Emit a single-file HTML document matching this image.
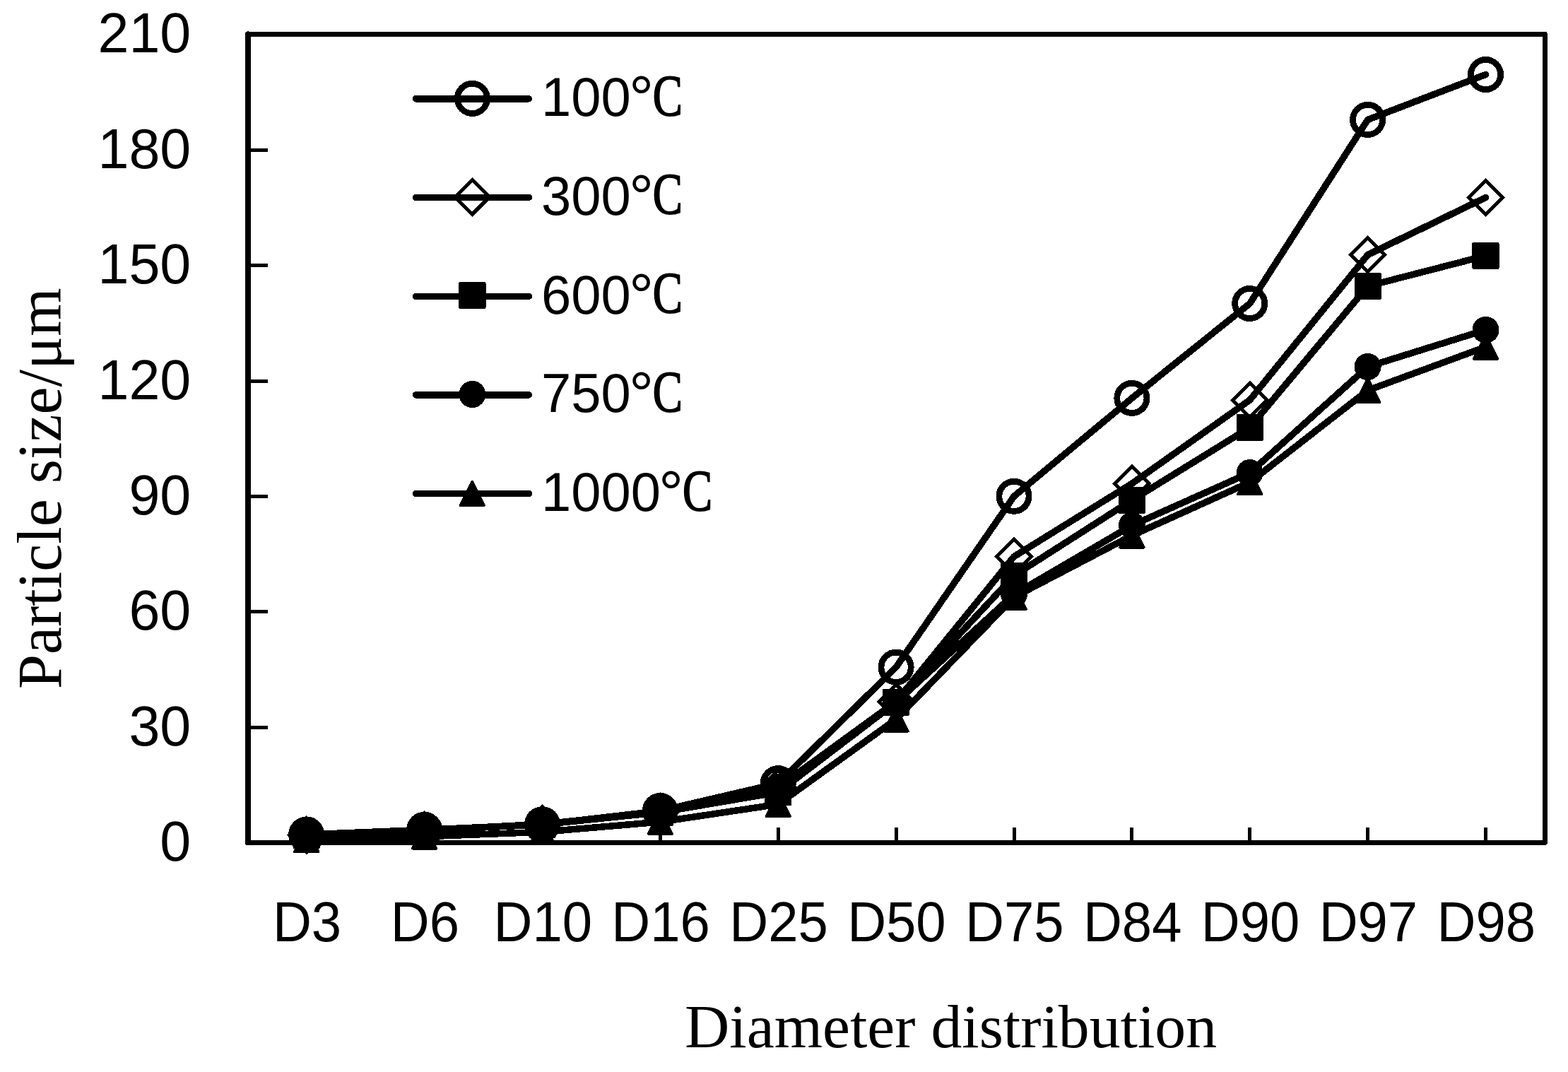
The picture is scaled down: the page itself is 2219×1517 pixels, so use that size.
<!DOCTYPE html>
<html lang="en"><head><meta charset="utf-8"><title>Particle size vs diameter distribution</title>
<style>html,body{margin:0;padding:0;background:#fff}svg{display:block}.s{font-family:"Liberation Sans", sans-serif;fill:#000}.t{font-family:"Liberation Serif", serif;fill:#000}</style></head><body>
<svg shape-rendering="crispEdges" width="2219" height="1517" viewBox="0 0 2219 1517">
<rect width="2219" height="1517" fill="#fff"/>
<rect x="351.1" y="48.4" width="1835.4" height="1144.1" fill="none" stroke="#000" stroke-width="6.9" stroke-linejoin="round"/>
<line x1="350.9" y1="48.4" x2="350.9" y2="1192.5" stroke="#000" stroke-width="8" stroke-linecap="round"/>
<g stroke="#000" stroke-width="5.1">
<line x1="351.1" y1="212.5" x2="379" y2="212.5"/>
<line x1="351.1" y1="375.5" x2="379" y2="375.5"/>
<line x1="351.1" y1="539.5" x2="379" y2="539.5"/>
<line x1="351.1" y1="702.5" x2="379" y2="702.5"/>
<line x1="351.1" y1="865.6" x2="379" y2="865.6"/>
<line x1="351.1" y1="1029.5" x2="379" y2="1029.5"/>
</g>
<g stroke="#000" stroke-width="5">
<line x1="433.7" y1="1192.5" x2="433.7" y2="1171"/>
<line x1="600.6" y1="1192.5" x2="600.6" y2="1171"/>
<line x1="767.5" y1="1192.5" x2="767.5" y2="1171"/>
<line x1="934.3" y1="1192.5" x2="934.3" y2="1171"/>
<line x1="1101.2" y1="1192.5" x2="1101.2" y2="1171"/>
<line x1="1268.1" y1="1192.5" x2="1268.1" y2="1171"/>
<line x1="1435.0" y1="1192.5" x2="1435.0" y2="1171"/>
<line x1="1601.9" y1="1192.5" x2="1601.9" y2="1171"/>
<line x1="1768.7" y1="1192.5" x2="1768.7" y2="1171"/>
<line x1="1935.6" y1="1192.5" x2="1935.6" y2="1171"/>
<line x1="2102.5" y1="1192.5" x2="2102.5" y2="1171"/>
</g>
<g class="s" font-size="79" text-anchor="end">
<text x="270.3" y="73.7">210</text>
<text x="270.3" y="237.8">180</text>
<text x="270.3" y="400.8">150</text>
<text x="270.3" y="564.8">120</text>
<text x="270.3" y="727.8">90</text>
<text x="270.3" y="890.9">60</text>
<text x="270.3" y="1054.8">30</text>
<text x="270.3" y="1217.8">0</text>
</g>
<g class="s" font-size="80.5" text-anchor="middle">
<text transform="translate(434.5 1332.2) scale(0.945 1)">D3</text>
<text transform="translate(601.4 1332.2) scale(0.945 1)">D6</text>
<text transform="translate(768.3 1332.2) scale(0.945 1)">D10</text>
<text transform="translate(935.1 1332.2) scale(0.945 1)">D16</text>
<text transform="translate(1102.0 1332.2) scale(0.945 1)">D25</text>
<text transform="translate(1268.9 1332.2) scale(0.945 1)">D50</text>
<text transform="translate(1435.8 1332.2) scale(0.945 1)">D75</text>
<text transform="translate(1602.7 1332.2) scale(0.945 1)">D84</text>
<text transform="translate(1769.5 1332.2) scale(0.945 1)">D90</text>
<text transform="translate(1936.4 1332.2) scale(0.945 1)">D97</text>
<text transform="translate(2103.3 1332.2) scale(0.945 1)">D98</text>
</g>
<text class="t" font-size="87.75" x="969" y="1482.3">Diameter distribution</text>
<text class="t" font-size="88" transform="translate(86 975) rotate(-90)">Particle size/μm</text>
<g><polyline points="433.7,1181.0 600.6,1174.3 767.5,1166.8 934.3,1147.5 1101.2,1108.6 1268.1,944.2 1435.0,702.3 1601.9,563.4 1768.7,429.5 1935.6,169.4 2102.5,105.5" fill="none" stroke="#000" stroke-width="9.5" stroke-linecap="round" stroke-linejoin="round"/>
<circle cx="433.7" cy="1181.0" r="21.1" fill="none" stroke="#000" stroke-width="8.8"/>
<circle cx="600.6" cy="1174.3" r="21.1" fill="none" stroke="#000" stroke-width="8.8"/>
<circle cx="767.5" cy="1166.8" r="21.1" fill="none" stroke="#000" stroke-width="8.8"/>
<circle cx="934.3" cy="1147.5" r="21.1" fill="none" stroke="#000" stroke-width="8.8"/>
<circle cx="1101.2" cy="1108.6" r="21.1" fill="none" stroke="#000" stroke-width="8.8"/>
<circle cx="1268.1" cy="944.2" r="21.1" fill="none" stroke="#000" stroke-width="8.8"/>
<circle cx="1435.0" cy="702.3" r="21.1" fill="none" stroke="#000" stroke-width="8.8"/>
<circle cx="1601.9" cy="563.4" r="21.1" fill="none" stroke="#000" stroke-width="8.8"/>
<circle cx="1768.7" cy="429.5" r="21.1" fill="none" stroke="#000" stroke-width="8.8"/>
<circle cx="1935.6" cy="169.4" r="21.1" fill="none" stroke="#000" stroke-width="8.8"/>
<circle cx="2102.5" cy="105.5" r="21.1" fill="none" stroke="#000" stroke-width="8.8"/>
</g>
<g><polyline points="433.7,1181.6 600.6,1175.1 767.5,1166.2 934.3,1149.0 1101.2,1114.2 1268.1,992.8 1435.0,787.6 1601.9,684.3 1768.7,566.1 1935.6,360.6 2102.5,279.5" fill="none" stroke="#000" stroke-width="9.5" stroke-linecap="round" stroke-linejoin="round"/>
<path d="M433.7 1157.4L457.9 1181.6L433.7 1205.8L409.5 1181.6Z" fill="none" stroke="#000" stroke-width="5.05" stroke-linejoin="miter"/>
<path d="M600.6 1150.9L624.8 1175.1L600.6 1199.3L576.4 1175.1Z" fill="none" stroke="#000" stroke-width="5.05" stroke-linejoin="miter"/>
<path d="M767.5 1142.0L791.7 1166.2L767.5 1190.4L743.3 1166.2Z" fill="none" stroke="#000" stroke-width="5.05" stroke-linejoin="miter"/>
<path d="M934.3 1124.8L958.5 1149.0L934.3 1173.2L910.1 1149.0Z" fill="none" stroke="#000" stroke-width="5.05" stroke-linejoin="miter"/>
<path d="M1101.2 1090.0L1125.4 1114.2L1101.2 1138.4L1077.0 1114.2Z" fill="none" stroke="#000" stroke-width="5.05" stroke-linejoin="miter"/>
<path d="M1268.1 968.6L1292.3 992.8L1268.1 1017.0L1243.9 992.8Z" fill="none" stroke="#000" stroke-width="5.05" stroke-linejoin="miter"/>
<path d="M1435.0 763.4L1459.2 787.6L1435.0 811.8L1410.8 787.6Z" fill="none" stroke="#000" stroke-width="5.05" stroke-linejoin="miter"/>
<path d="M1601.9 660.1L1626.1 684.3L1601.9 708.5L1577.7 684.3Z" fill="none" stroke="#000" stroke-width="5.05" stroke-linejoin="miter"/>
<path d="M1768.7 541.9L1792.9 566.1L1768.7 590.3L1744.5 566.1Z" fill="none" stroke="#000" stroke-width="5.05" stroke-linejoin="miter"/>
<path d="M1935.6 336.4L1959.8 360.6L1935.6 384.8L1911.4 360.6Z" fill="none" stroke="#000" stroke-width="5.05" stroke-linejoin="miter"/>
<path d="M2102.5 255.3L2126.7 279.5L2102.5 303.7L2078.3 279.5Z" fill="none" stroke="#000" stroke-width="5.05" stroke-linejoin="miter"/>
</g>
<g><polyline points="433.7,1182.0 600.6,1175.0 767.5,1166.8 934.3,1149.6 1101.2,1121.2 1268.1,993.9 1435.0,814.5 1601.9,707.8 1768.7,605.0 1935.6,404.9 2102.5,361.9" fill="none" stroke="#000" stroke-width="9.5" stroke-linecap="round" stroke-linejoin="round"/>
<rect x="414.6" y="1163.0" width="38.1" height="38.1" rx="1.8" fill="#000"/>
<rect x="581.5" y="1156.0" width="38.1" height="38.1" rx="1.8" fill="#000"/>
<rect x="748.4" y="1147.8" width="38.1" height="38.1" rx="1.8" fill="#000"/>
<rect x="915.3" y="1130.5" width="38.1" height="38.1" rx="1.8" fill="#000"/>
<rect x="1082.2" y="1102.2" width="38.1" height="38.1" rx="1.8" fill="#000"/>
<rect x="1249.0" y="974.8" width="38.1" height="38.1" rx="1.8" fill="#000"/>
<rect x="1415.9" y="795.5" width="38.1" height="38.1" rx="1.8" fill="#000"/>
<rect x="1582.8" y="688.8" width="38.1" height="38.1" rx="1.8" fill="#000"/>
<rect x="1749.7" y="586.0" width="38.1" height="38.1" rx="1.8" fill="#000"/>
<rect x="1916.6" y="385.8" width="38.1" height="38.1" rx="1.8" fill="#000"/>
<rect x="2083.4" y="342.8" width="38.1" height="38.1" rx="1.8" fill="#000"/>
</g>
<g><polyline points="433.7,1182.0 600.6,1175.0 767.5,1166.8 934.3,1148.5 1101.2,1113.7 1268.1,994.0 1435.0,841.0 1601.9,743.5 1768.7,669.0 1935.6,519.0 2102.5,466.8" fill="none" stroke="#000" stroke-width="9.5" stroke-linecap="round" stroke-linejoin="round"/>
<circle cx="433.7" cy="1182.0" r="19" fill="#000"/>
<circle cx="600.6" cy="1175.0" r="19" fill="#000"/>
<circle cx="767.5" cy="1166.8" r="19" fill="#000"/>
<circle cx="934.3" cy="1148.5" r="19" fill="#000"/>
<circle cx="1101.2" cy="1113.7" r="19" fill="#000"/>
<circle cx="1268.1" cy="994.0" r="19" fill="#000"/>
<circle cx="1435.0" cy="841.0" r="19" fill="#000"/>
<circle cx="1601.9" cy="743.5" r="19" fill="#000"/>
<circle cx="1768.7" cy="669.0" r="19" fill="#000"/>
<circle cx="1935.6" cy="519.0" r="19" fill="#000"/>
<circle cx="2102.5" cy="466.8" r="19" fill="#000"/>
</g>
<g><polyline points="433.7,1188.7 600.6,1183.8 767.5,1177.3 934.3,1163.1 1101.2,1138.2 1268.1,1017.8 1435.0,845.0 1601.9,757.8 1768.7,682.5 1935.6,552.4 2102.5,490.9" fill="none" stroke="#000" stroke-width="9.5" stroke-linecap="round" stroke-linejoin="round"/>
<path d="M433.7 1171.8L450.6 1205.6L416.8 1205.6Z" fill="#000" stroke="#000" stroke-width="3.6" stroke-linejoin="round"/>
<path d="M600.6 1166.9L617.5 1200.7L583.7 1200.7Z" fill="#000" stroke="#000" stroke-width="3.6" stroke-linejoin="round"/>
<path d="M767.5 1160.4L784.4 1194.2L750.6 1194.2Z" fill="#000" stroke="#000" stroke-width="3.6" stroke-linejoin="round"/>
<path d="M934.3 1146.2L951.2 1180.0L917.4 1180.0Z" fill="#000" stroke="#000" stroke-width="3.6" stroke-linejoin="round"/>
<path d="M1101.2 1121.3L1118.1 1155.1L1084.3 1155.1Z" fill="#000" stroke="#000" stroke-width="3.6" stroke-linejoin="round"/>
<path d="M1268.1 1000.9L1285.0 1034.7L1251.2 1034.7Z" fill="#000" stroke="#000" stroke-width="3.6" stroke-linejoin="round"/>
<path d="M1435.0 828.1L1451.9 861.9L1418.1 861.9Z" fill="#000" stroke="#000" stroke-width="3.6" stroke-linejoin="round"/>
<path d="M1601.9 740.9L1618.8 774.7L1585.0 774.7Z" fill="#000" stroke="#000" stroke-width="3.6" stroke-linejoin="round"/>
<path d="M1768.7 665.6L1785.6 699.4L1751.8 699.4Z" fill="#000" stroke="#000" stroke-width="3.6" stroke-linejoin="round"/>
<path d="M1935.6 535.5L1952.5 569.3L1918.7 569.3Z" fill="#000" stroke="#000" stroke-width="3.6" stroke-linejoin="round"/>
<path d="M2102.5 474.0L2119.4 507.8L2085.6 507.8Z" fill="#000" stroke="#000" stroke-width="3.6" stroke-linejoin="round"/>
</g>
<g><line x1="588.5" y1="139.75" x2="748.4" y2="139.75" stroke="#000" stroke-width="9.5" stroke-linecap="round"/>
<circle cx="668.4" cy="139.4" r="21.1" fill="none" stroke="#000" stroke-width="8.8"/>
<text class="s" font-size="78.5" x="766" y="164.1"><tspan textLength="126.7" lengthAdjust="spacingAndGlyphs">100</tspan><tspan font-size="88" x="889.9" y="169.2">°</tspan><tspan class="t" font-size="82" x="923.8" y="162.8" textLength="42.1" lengthAdjust="spacingAndGlyphs" stroke="#000" stroke-width="1.9" stroke-linejoin="round">C</tspan></text>
</g>
<g><line x1="588.5" y1="279.3" x2="748.4" y2="279.3" stroke="#000" stroke-width="9.5" stroke-linecap="round"/>
<path d="M668.4 254.7L692.6 278.9L668.4 303.1L644.2 278.9Z" fill="none" stroke="#000" stroke-width="5.05" stroke-linejoin="miter"/>
<text class="s" font-size="78.5" x="766" y="303.6"><tspan textLength="126.7" lengthAdjust="spacingAndGlyphs">300</tspan><tspan font-size="88" x="889.9" y="308.7">°</tspan><tspan class="t" font-size="82" x="923.8" y="302.4" textLength="42.1" lengthAdjust="spacingAndGlyphs" stroke="#000" stroke-width="1.9" stroke-linejoin="round">C</tspan></text>
</g>
<g><line x1="588.5" y1="419.3" x2="748.4" y2="419.3" stroke="#000" stroke-width="9.5" stroke-linecap="round"/>
<rect x="649.4" y="398.9" width="38.1" height="38.1" rx="1.8" fill="#000"/>
<text class="s" font-size="78.5" x="766" y="443.6"><tspan textLength="126.7" lengthAdjust="spacingAndGlyphs">600</tspan><tspan font-size="88" x="889.9" y="448.7">°</tspan><tspan class="t" font-size="82" x="923.8" y="442.4" textLength="42.1" lengthAdjust="spacingAndGlyphs" stroke="#000" stroke-width="1.9" stroke-linejoin="round">C</tspan></text>
</g>
<g><line x1="588.5" y1="558.85" x2="748.4" y2="558.85" stroke="#000" stroke-width="9.5" stroke-linecap="round"/>
<circle cx="668.4" cy="558.0" r="19" fill="#000"/>
<text class="s" font-size="78.5" x="766" y="583.1"><tspan textLength="126.7" lengthAdjust="spacingAndGlyphs">750</tspan><tspan font-size="88" x="889.9" y="588.2">°</tspan><tspan class="t" font-size="82" x="923.8" y="582.0" textLength="42.1" lengthAdjust="spacingAndGlyphs" stroke="#000" stroke-width="1.9" stroke-linejoin="round">C</tspan></text>
</g>
<g><line x1="588.5" y1="698.4" x2="748.4" y2="698.4" stroke="#000" stroke-width="9.5" stroke-linecap="round"/>
<path d="M668.4 681.5L685.3 715.3L651.5 715.3Z" fill="#000" stroke="#000" stroke-width="3.6" stroke-linejoin="round"/>
<text class="s" font-size="78.5" x="766" y="722.7"><tspan textLength="168.9" lengthAdjust="spacingAndGlyphs">1000</tspan><tspan font-size="88" x="932.1" y="727.8">°</tspan><tspan class="t" font-size="82" x="966.0" y="721.5" textLength="42.1" lengthAdjust="spacingAndGlyphs" stroke="#000" stroke-width="1.9" stroke-linejoin="round">C</tspan></text>
</g>
</svg></body></html>
